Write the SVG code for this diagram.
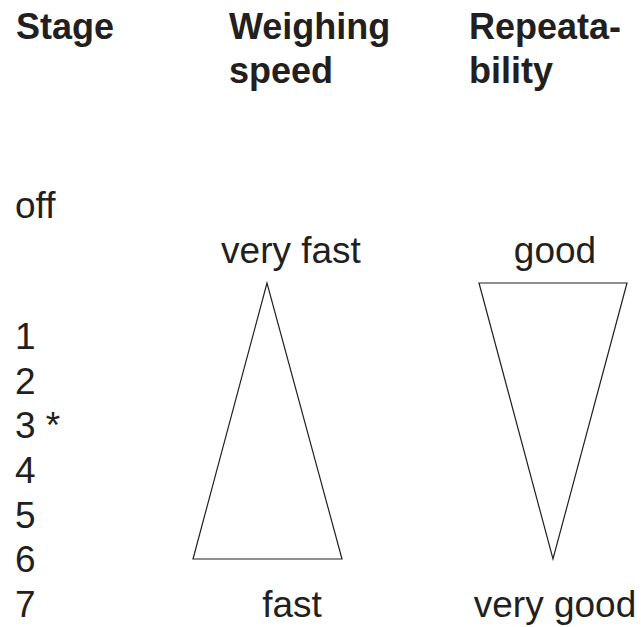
<svg xmlns="http://www.w3.org/2000/svg" width="641" height="627" viewBox="0 0 641 627">
<style>
text{font-family:"Liberation Sans",Arial,sans-serif;fill:#231f20;font-size:37px}
.h{font-weight:bold;font-size:36px}
.m{text-anchor:middle}
.tri{fill:none;stroke:#231f20;stroke-width:1.2}
</style>
<rect width="641" height="627" fill="#fff"/>
<g id="headers">
<text class="h" x="16" y="39">Stage</text>
<text class="h" x="229" y="39">Weighing</text>
<text class="h" x="229" y="83">speed</text>
<text class="h" x="469" y="39">Repeata-</text>
<text class="h" x="469" y="83">bility</text>
</g>
<g id="stages">
<text x="15" y="218">off</text>
<text x="15" y="349">1</text>
<text x="15" y="394">2</text>
<text x="15" y="438">3 *</text>
<text x="15" y="483">4</text>
<text x="15" y="528">5</text>
<text x="15" y="572">6</text>
<text x="15" y="617">7</text>
</g>
<g id="speed">
<text class="m" x="291" y="263">very fast</text>
<polygon class="tri" points="267,283 193,559 342,559"/>
<text class="m" x="292" y="617">fast</text>
</g>
<g id="repeatability">
<text class="m" x="555" y="263">good</text>
<polygon class="tri" points="479,283 627,283 553,559"/>
<text class="m" x="555" y="617">very good</text>
</g>
</svg>
